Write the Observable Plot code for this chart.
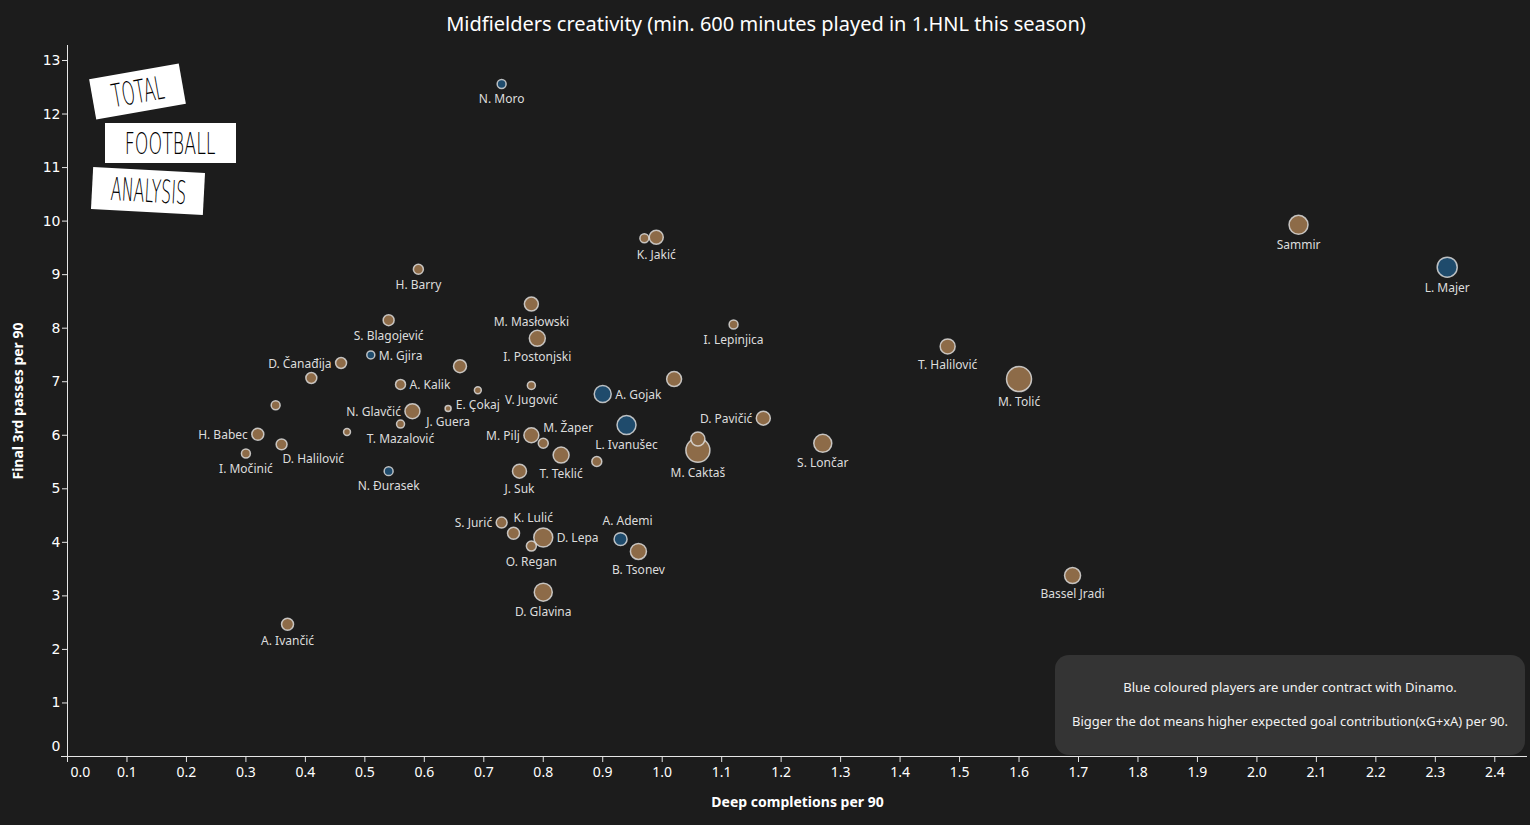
<!DOCTYPE html>
<html><head><meta charset="utf-8">
<script src="https://cdn.jsdelivr.net/npm/d3@7"></script>
<script src="https://cdn.jsdelivr.net/npm/@observablehq/plot@0.6"></script>
<style>
html,body{margin:0;padding:0;background:#1c1c1c;}
#wrap{position:relative;width:1530px;height:825px;overflow:hidden;font-family:"Noto Sans",sans-serif;background:#1c1c1c;}
#title{position:absolute;left:0;top:0;width:1532px;height:45px;line-height:48px;text-align:center;color:#fff;font-size:20px;}
#chart{position:absolute;left:0;top:45px;}
.logo{position:absolute;background:#fff;color:#000;font-family:"DejaVu Sans","Liberation Sans",sans-serif;font-weight:300;display:flex;align-items:center;justify-content:center;overflow:hidden;}
.logo span{display:inline-block;}
#l1{left:92px;top:71px;width:91px;height:41px;transform:rotate(-10deg);font-size:32px;}
#l1 span{transform:scaleX(0.52);}
#l2{left:105px;top:123px;width:131px;height:40px;font-size:30px;}
#l2 span{transform:scaleX(0.58);}
#l3{left:92px;top:170px;width:112px;height:42px;transform:rotate(3deg);font-size:32px;}
#l3 span{transform:scaleX(0.5);}
#legend{position:absolute;left:1055px;top:655px;width:470px;height:100px;background:#343434;border-radius:14px;color:#f2f2f2;font-size:13px;text-align:center;}
#legend div{position:absolute;left:0;width:100%;}
</style></head>
<body>
<div id="wrap">
  <div id="title">Midfielders creativity (min. 600 minutes played in 1.HNL this season)</div>
  <div id="chart"></div>
  <div class="logo" id="l1"><span>TOTAL</span></div>
  <div class="logo" id="l2"><span>FOOTBALL</span></div>
  <div class="logo" id="l3"><span>ANALYSIS</span></div>
  <div id="legend">
    <div style="top:23px;">Blue coloured players are under contract with Dinamo.</div>
    <div style="top:57px;">Bigger the dot means higher expected goal contribution(xG+xA) per 90.</div>
  </div>
</div>
<script>
// ---- data ----
const players = ["N. Moro","K. Jakić","","Sammir","L. Majer","H. Barry","M. Masłowski","S. Blagojević","I. Lepinjica","I. Postonjski",
  "M. Gjira","D. Čanađija","","","T. Halilović","M. Tolić","A. Kalik","E. Çokaj","V. Jugović","",
  "A. Gojak","","J. Guera","N. Glavčić","T. Mazalović","","D. Pavičić","L. Ivanušec","H. Babec","M. Pilj",
  "M. Žaper","D. Halilović","","M. Caktaš","S. Lončar","I. Močinić","T. Teklić","","N. Đurasek","J. Suk",
  "S. Jurić","K. Lulić","D. Lepa","O. Regan","A. Ademi","B. Tsonev","D. Glavina","Bassel Jradi","A. Ivančić"];
const deepCompletions = [0.73,0.99,0.97,2.07,2.32,0.59,0.78,0.54,1.12,0.79,
  0.51,0.46,0.66,0.41,1.48,1.60,0.56,0.69,0.78,1.02,
  0.90,0.35,0.64,0.58,0.56,0.47,1.17,0.94,0.32,0.78,
  0.80,0.36,1.06,1.06,1.27,0.30,0.83,0.89,0.54,0.76,
  0.73,0.75,0.80,0.78,0.93,0.96,0.80,1.69,0.37];
const final3rdPasses = [12.56,9.70,9.68,9.93,9.14,9.10,8.45,8.15,8.07,7.81,
  7.50,7.35,7.29,7.07,7.66,7.05,6.95,6.84,6.93,7.05,
  6.77,6.56,6.50,6.45,6.21,6.06,6.32,6.19,6.02,6.00,
  5.85,5.83,5.93,5.72,5.85,5.66,5.63,5.51,5.33,5.33,
  4.37,4.17,4.09,3.93,4.06,3.83,3.07,3.38,2.47];
const xGxA = [0.10,0.245,0.10,0.45,0.50,0.125,0.245,0.15,0.10,0.32,
  0.08,0.15,0.21,0.15,0.28,0.78,0.125,0.06,0.08,0.28,
  0.36,0.10,0.045,0.28,0.08,0.06,0.245,0.45,0.18,0.28,
  0.125,0.15,0.245,0.72,0.405,0.10,0.32,0.125,0.10,0.245,
  0.15,0.18,0.45,0.125,0.21,0.32,0.405,0.32,0.18];
const dinamo = ["N. Moro","L. Majer","M. Gjira","A. Gojak","L. Ivanušec","N. Đurasek","A. Ademi"];
const xTicks = d3.range(0, 25).map(i => i / 10);
const yTicks = d3.range(0, 14);

// ---- label placement (layout only) ----
const placement = {"M. Gjira":"right","D. Čanađija":"left","A. Kalik":"right","A. Gojak":"right","N. Glavčić":"left",
  "D. Pavičić":"left","H. Babec":"left","M. Pilj":"left","M. Žaper":"aboveRight","D. Halilović":"belowRight",
  "S. Jurić":"left","K. Lulić":"aboveRight","D. Lepa":"right","A. Ademi":"above"};

const data = players.map((name, i) => ({name, x: deepCompletions[i], y: final3rdPasses[i], v: xGxA[i], team: dinamo.includes(name) ? "Dinamo" : "Other"}));
const sorted = data.slice().sort((a, b) => b.v - a.v);
const vMax = d3.max(xGxA), rMax = 12.5;
const rOf = d3.scaleSqrt().domain([0, vMax]).range([0, rMax]);

const labelMarks = data.filter(d => d.name).map(d => {
  const r = rOf(d.v), p = placement[d.name] || "below";
  let o = {dx: 0, dy: r + 11, textAnchor: "middle"};
  if (p === "left") o = {dx: -(r + 4), dy: 1, textAnchor: "end"};
  if (p === "right") o = {dx: r + 4, dy: 1, textAnchor: "start"};
  if (p === "aboveRight") o = {dx: 0, dy: -15, textAnchor: "start"};
  if (p === "belowRight") o = {dx: 1, dy: 15, textAnchor: "start"};
  if (p === "above") o = {dx: 7, dy: -18, textAnchor: "middle"};
  return Plot.text([d], {x: "x", y: "y", text: "name", fill: "#dcdcdc", fontSize: 12, ...o});
});

const chart = Plot.plot({
  width: 1530, height: 780,
  marginLeft: 67, marginRight: 3, marginTop: 0, marginBottom: 69,
  x: {domain: [0, 2.455]},
  y: {domain: [0, 13.28]},
  r: {domain: [0, vMax], range: [0, rMax]},
  color: {domain: ["Other", "Dinamo"], range: ["#8d6b48", "#1f4b6c"]},
  style: {background: "transparent", color: "#fff", fontFamily: "Noto Sans, sans-serif", fontSize: "12px"},
  marks: [
    Plot.axisX(xTicks, {tickSize: 6, tickPadding: 5, fontSize: 14, stroke: "#e6e6e6", fill: "#fff", label: null,
      tickFormat: d => d === 0 ? "" : d.toFixed(1)}),
    Plot.axisX([0], {tickSize: 0, tickPadding: 11, dx: 13, fontSize: 14, fill: "#fff", label: null, tickFormat: d => d.toFixed(1)}),
    Plot.axisY(yTicks, {tickSize: 5, tickPadding: 2, fontSize: 14, fontFamily: "DejaVu Sans", stroke: "#e6e6e6", fill: "#fff", label: null,
      tickFormat: d => d === 0 ? "" : String(d)}),
    Plot.axisY([0], {tickSize: 0, tickPadding: 7, dy: -10, fontSize: 14, fontFamily: "DejaVu Sans", fill: "#fff", label: null, tickFormat: d => String(d)}),
    Plot.ruleY([0], {stroke: "#e6e6e6", insetLeft: -6}),
    Plot.ruleX([0], {stroke: "#e6e6e6"}),
    Plot.text(["Deep completions per 90"], {text: d => d, frameAnchor: "bottom", lineAnchor: "middle", dy: 46, fontWeight: "bold", fontSize: 14, fill: "#fff"}),
    Plot.text(["Final 3rd passes per 90"], {text: d => d, frameAnchor: "left", textAnchor: "middle", lineAnchor: "middle", dx: -49, rotate: -90, fontWeight: "bold", fontSize: 14, fill: "#fff"}),
    Plot.dot(sorted, {x: "x", y: "y", r: "v", fill: "team", stroke: "#e4e4e4", strokeWidth: 1.5, strokeOpacity: 0.8, fillOpacity: 1}),
    ...labelMarks
  ]
});
document.getElementById("chart").appendChild(chart);
</script>
</body></html>
